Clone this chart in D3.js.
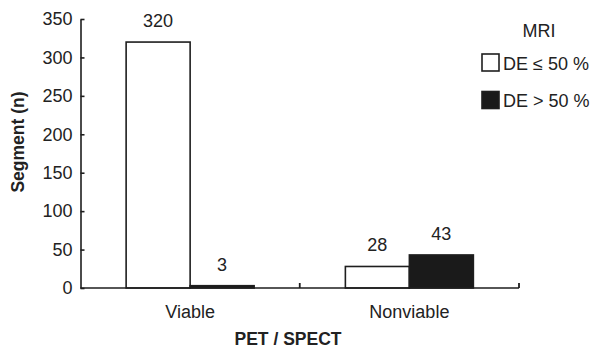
<!DOCTYPE html>
<html>
<head>
<meta charset="utf-8">
<script src="https://cdn.jsdelivr.net/npm/d3@7/dist/d3.min.js"></script>
<style>
  html, body { margin: 0; padding: 0; background: #fff; }
  svg { display: block; font-family: "Liberation Sans", Arial, Helvetica, sans-serif; }
</style>
</head>
<body>
<svg id="chart" width="596" height="349"></svg>
<script>
// Segment counts by PET/SPECT result, split by MRI delayed enhancement
const categories = ["Viable", "Nonviable"];
const seriesNames = ["DE \u2264 50 %", "DE > 50 %"];
const seriesColors = ["#ffffff", "#1a1a1a"];
const lowDE = [320, 28];
const highDE = [3, 43];
const yTicks = [0, 50, 100, 150, 200, 250, 300, 350];

const series = [lowDE, highDE];
const W = 596, H = 349;
const margin = { top: 19, right: 77, bottom: 61, left: 80.5 };
const svg = d3.select("#chart");
const ink = "#1e1e1e";
const fs = 18;

const x0 = d3.scaleBand().domain(categories).range([margin.left, W - margin.right]).padding(0);
const y = d3.scaleLinear().domain([0, 350]).range([H - margin.bottom, margin.top]);
const groupHalf = 64;

// Bars
categories.forEach((cat, ci) => {
  const cx = x0(cat) + x0.bandwidth() / 2;
  const x1 = d3.scaleBand().domain(d3.range(series.length)).range([cx - groupHalf, cx + groupHalf]).padding(0);
  series.forEach((vals, si) => {
    const v = vals[ci];
    svg.append("rect")
      .attr("x", x1(si))
      .attr("y", y(v))
      .attr("width", x1.bandwidth())
      .attr("height", y(0) - y(v))
      .attr("fill", seriesColors[si])
      .attr("stroke", ink)
      .attr("stroke-width", 1.6);
    svg.append("text")
      .attr("x", x1(si) + x1.bandwidth() / 2)
      .attr("y", y(v) - 15)
      .attr("text-anchor", "middle")
      .attr("font-size", fs)
      .attr("fill", "#222")
      .text(v);
  });
});

// Y axis, ticks pointing inward
const yAxis = svg.append("g")
  .attr("transform", `translate(${margin.left},0)`)
  .call(d3.axisRight(y).tickValues(yTicks).tickSize(4).tickSizeOuter(0).tickFormat(d3.format("d")));
yAxis.select(".domain").attr("stroke", ink).attr("stroke-width", 1.6);
yAxis.selectAll(".tick line").attr("stroke", ink).attr("stroke-width", 1.6);
yAxis.selectAll(".tick text")
  .attr("x", -8)
  .attr("text-anchor", "end")
  .attr("font-size", fs)
  .attr("font-family", "Liberation Sans, Arial, sans-serif")
  .attr("fill", "#222");

// X axis with separators between categories, ticks pointing up
const sepScale = d3.scaleLinear().domain([0, categories.length]).range([margin.left, W - margin.right]);
svg.append("line")
  .attr("x1", margin.left).attr("x2", W - margin.right)
  .attr("y1", y(0)).attr("y2", y(0))
  .attr("stroke", ink).attr("stroke-width", 1.6);
d3.range(1, categories.length + 1).forEach(i => {
  svg.append("line")
    .attr("x1", sepScale(i)).attr("x2", sepScale(i))
    .attr("y1", y(0)).attr("y2", y(0) - 5)
    .attr("stroke", ink).attr("stroke-width", 1.8);
});
categories.forEach(cat => {
  svg.append("text")
    .attr("x", x0(cat) + x0.bandwidth() / 2)
    .attr("y", y(0) + 30)
    .attr("text-anchor", "middle")
    .attr("font-size", fs)
    .attr("fill", "#222")
    .text(cat);
});

// Axis titles
svg.append("text")
  .attr("x", 288).attr("y", 345)
  .attr("text-anchor", "middle")
  .attr("font-size", 17.5)
  .attr("font-weight", "bold")
  .attr("fill", "#222")
  .text("PET / SPECT");
svg.append("text")
  .attr("transform", "translate(24,142) rotate(-90)")
  .attr("text-anchor", "middle")
  .attr("font-size", 17.5)
  .attr("font-weight", "bold")
  .attr("fill", "#222")
  .text("Segment (n)");

// Legend
const legend = svg.append("g");
legend.append("text")
  .attr("x", 539).attr("y", 37)
  .attr("text-anchor", "middle")
  .attr("font-size", fs)
  .attr("fill", "#222")
  .text("MRI");
seriesNames.forEach((name, i) => {
  const top = 54 + i * 37.5;
  legend.append("rect")
    .attr("x", 482).attr("y", top)
    .attr("width", 17).attr("height", 17)
    .attr("fill", seriesColors[i])
    .attr("stroke", ink)
    .attr("stroke-width", 1.6);
  legend.append("text")
    .attr("x", 503).attr("y", top + 15.5)
    .attr("font-size", fs)
    .attr("fill", "#222")
    .text(name);
});
</script>
</body>
</html>
